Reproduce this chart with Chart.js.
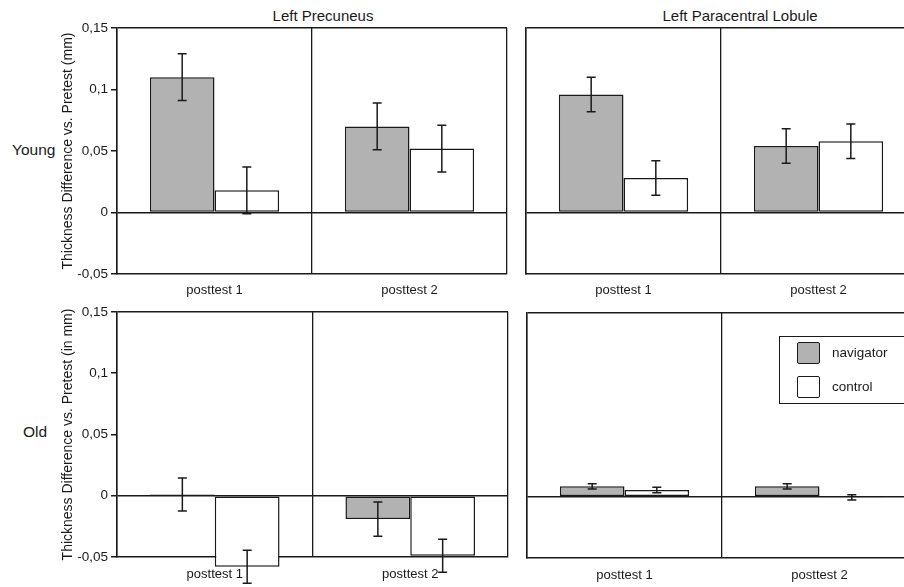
<!DOCTYPE html>
<html lang="en">
<head>
  <meta charset="UTF-8">
  <title>Thickness Difference vs. Pretest</title>
  <script src="https://cdn.jsdelivr.net/npm/chart.js"></script>
  <style>
    html, body { margin: 0; padding: 0; background: #fff; overflow: hidden; }
    body { width: 904px; height: 587px; position: relative; font-family: "Liberation Sans", Arial, sans-serif; color: #1a1a1a; }
    .panel { position: absolute; }
    .txt { position: absolute; white-space: nowrap; line-height: 1; }
    .title { font-size: 15px; transform: translateX(-50%); }
    .row { font-size: 15.5px; }
    #legend { position: absolute; left: 779px; top: 336px; width: 180px; height: 66px; border: 1.5px solid #1a1a1a; }
    .item { position: absolute; left: 17px; }
    .swatch { position: absolute; left: 0; top: 0; width: 21px; height: 20px; border: 1.5px solid #1a1a1a; border-radius: 2px; }
    .item span { position: absolute; left: 35px; top: 3px; font-size: 13.5px; }
  </style>
</head>
<body>
  <div class="txt title" style="left:323px;top:8px">Left Precuneus</div>
  <div class="txt title" style="left:740px;top:8px">Left Paracentral Lobule</div>
  <div class="txt row" style="left:12px;top:142px">Young</div>
  <div class="txt row" style="left:23px;top:424px">Old</div>

  <div class="panel" style="left:0;top:0"><canvas id="youngPrec" width="520" height="300"></canvas></div>
  <div class="panel" style="left:520px;top:0;width:400px"><canvas id="youngPara" width="400" height="300"></canvas></div>
  <div class="panel" style="left:0;top:284px"><canvas id="oldPrec" width="520" height="303"></canvas></div>
  <div class="panel" style="left:521px;top:284px;width:400px"><canvas id="oldPara" width="400" height="303"></canvas></div>
  <div id="legend"></div>

  <script>
    const categories = ['posttest 1', 'posttest 2'];
    const seriesNames = ['navigator', 'control'];
    const yTickLabels = ['-0,05', '0', '0,05', '0,1', '0,15'];

    // Young, left precuneus
    const youngPrecNav = [0.110, 0.070];
    const youngPrecNavErr = [0.019, 0.019];
    const youngPrecCtl = [0.018, 0.052];
    const youngPrecCtlErr = [0.019, 0.019];
    // Young, left paracentral lobule
    const youngParaNav = [0.096, 0.054];
    const youngParaNavErr = [0.014, 0.014];
    const youngParaCtl = [0.028, 0.058];
    const youngParaCtlErr = [0.014, 0.014];
    // Old, left precuneus
    const oldPrecNav = [0.001, -0.019];
    const oldPrecNavErr = [0.0135, 0.014];
    const oldPrecCtl = [-0.058, -0.049];
    const oldPrecCtlErr = [0.0135, 0.0135];
    // Old, left paracentral lobule
    const oldParaNav = [0.0085, 0.0085];
    const oldParaNavErr = [0.0022, 0.0022];
    const oldParaCtl = [0.0055, -0.0005];
    const oldParaCtlErr = [0.0022, 0.0022];

    const ink = '#1a1a1a';
    const fills = ['#b2b2b2', '#ffffff'];

    // whiskers from the y scale
    const errorBars = {
      id: 'errorBars',
      afterDatasetsDraw(chart) {
        const ctx = chart.ctx;
        const y = chart.scales.y;
        ctx.save();
        ctx.strokeStyle = ink;
        ctx.lineWidth = 1.5;
        chart.data.datasets.forEach((ds, i) => {
          chart.getDatasetMeta(i).data.forEach((bar, j) => {
            const top = y.getPixelForValue(ds.data[j] + ds.errors[j]);
            const bot = y.getPixelForValue(ds.data[j] - ds.errors[j]);
            ctx.beginPath();
            ctx.moveTo(bar.x, top); ctx.lineTo(bar.x, bot);
            ctx.moveTo(bar.x - 4.5, top); ctx.lineTo(bar.x + 4.5, top);
            ctx.moveTo(bar.x - 4.5, bot); ctx.lineTo(bar.x + 4.5, bot);
            ctx.stroke();
          });
        });
        ctx.restore();
      }
    };

    function makePanel(id, nav, navErr, ctl, ctlErr, opt) {
      const datasets = [[nav, navErr], [ctl, ctlErr]].map(([data, errors], i) => ({
        label: seriesNames[i],
        data: data,
        errors: errors,
        backgroundColor: fills[i],
        borderColor: ink,
        borderWidth: 1.5,
        borderSkipped: false,
        categoryPercentage: 0.663,
        barPercentage: 1,
        clip: false
      }));

      new Chart(document.getElementById(id), {
        type: 'bar',
        data: { labels: categories, datasets: datasets },
        options: {
          responsive: false,
          animation: false,
          layout: { padding: opt.padding },
          plugins: { legend: { display: false }, tooltip: { enabled: false } },
          scales: {
            x: {
              offset: true,
              afterFit: s => { s.height = opt.axisH; },
              grid: { offset: true, color: ink, lineWidth: 1.3, drawTicks: false },
              border: { color: ink, width: 1.5 },
              ticks: { color: ink, padding: opt.xPad, font: { family: 'Liberation Sans', size: 13 } }
            },
            y: {
              min: -0.05,
              max: 0.15,
              afterFit: s => { s.width = opt.yWidth; },
              grid: {
                color: c => (Math.abs(c.tick.value) < 1e-9 || Math.abs(c.tick.value - 0.15) < 1e-9) ? ink : 'rgba(0,0,0,0)',
                lineWidth: 1.5,
                tickColor: ink,
                tickLength: 6,
                drawTicks: opt.showY
              },
              border: { color: ink, width: 1.5 },
              title: {
                display: !!opt.yTitle,
                text: opt.yTitle,
                color: ink,
                padding: { top: 0, bottom: 0 },
                font: { family: 'Liberation Sans', size: 14 }
              },
              ticks: {
                display: opt.showY,
                stepSize: 0.05,
                padding: 3,
                color: ink,
                font: { family: 'Liberation Sans', size: 13.5 },
                callback: (v, i) => yTickLabels[i]
              }
            }
          }
        },
        plugins: [errorBars]
      });
    }

    makePanel('youngPrec', youngPrecNav, youngPrecNavErr, youngPrecCtl, youngPrecCtlErr, {
      padding: { left: 60, top: 28, right: 13, bottom: 0 }, yWidth: 57, axisH: 26, xPad: 9,
      showY: true, yTitle: 'Thickness Difference vs. Pretest (mm)'
    });
    makePanel('youngPara', youngParaNav, youngParaNavErr, youngParaCtl, youngParaCtlErr, {
      padding: { left: 5, top: 28, right: 4, bottom: 0 }, yWidth: 1, axisH: 26, xPad: 9,
      showY: false
    });
    makePanel('oldPrec', oldPrecNav, oldPrecNavErr, oldPrecCtl, oldPrecCtlErr, {
      padding: { left: 60, top: 28, right: 12, bottom: 0 }, yWidth: 57, axisH: 30, xPad: 10,
      showY: true, yTitle: 'Thickness Difference vs. Pretest (in mm)'
    });
    makePanel('oldPara', oldParaNav, oldParaNavErr, oldParaCtl, oldParaCtlErr, {
      padding: { left: 5, top: 29, right: 4, bottom: 0 }, yWidth: 1, axisH: 29, xPad: 10,
      showY: false
    });

    // legend built from the series names and fills
    const legend = document.getElementById('legend');
    seriesNames.forEach((name, i) => {
      const item = document.createElement('div');
      item.className = 'item';
      item.style.top = (5 + i * 34) + 'px';
      item.innerHTML = '<div class="swatch" style="background:' + fills[i] + '"></div><span>' + name + '</span>';
      legend.appendChild(item);
    });
  </script>
</body>
</html>
